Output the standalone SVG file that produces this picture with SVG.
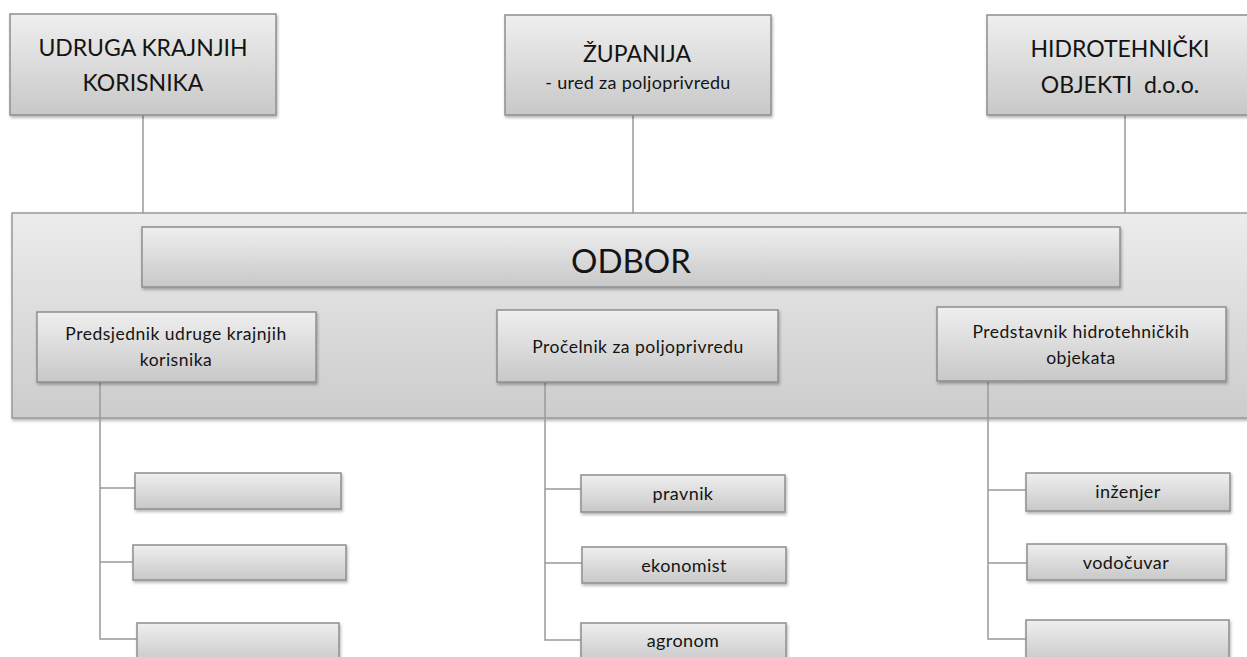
<svg xmlns="http://www.w3.org/2000/svg" width="1247" height="657" viewBox="0 0 1247 657">
<defs>
<linearGradient id="g" x1="0" y1="0" x2="0" y2="1">
<stop offset="0" stop-color="#efefef"/>
<stop offset="1" stop-color="#c8c8c8"/>
</linearGradient>
<linearGradient id="gc" x1="0" y1="0" x2="0" y2="1">
<stop offset="0" stop-color="#ececec"/>
<stop offset="1" stop-color="#cccccc"/>
</linearGradient>
<filter id="sh" x="-5%" y="-10%" width="110%" height="130%">
<feDropShadow dx="1" dy="2" stdDeviation="1.5" flood-color="#000" flood-opacity="0.3"/>
</filter>
</defs>
<style>
.box{fill:url(#g);stroke:#8e8e8e;stroke-width:1.5;filter:url(#sh)}
.cont{fill:url(#gc);stroke:#999;stroke-width:1.5;filter:url(#sh)}
.ln{stroke:#999;stroke-width:1.5;fill:none}
text{font-family:Lato,"Liberation Sans",sans-serif;fill:#141414;text-anchor:middle}
.big{font-size:23px}
.mid{font-size:17.5px;letter-spacing:0.5px}
.sub{font-size:18px;letter-spacing:0.3px}
.sm{font-size:18px;letter-spacing:0.4px}
</style>
<rect width="1247" height="657" fill="#fff"/>
<g id="connectors-top">
<line class="ln" x1="143" y1="115" x2="143" y2="213"/>
<line class="ln" x1="633" y1="115" x2="633" y2="213"/>
<line class="ln" x1="1125" y1="115" x2="1125" y2="213"/>
</g>
<g id="odbor-container">
<rect class="cont" x="12" y="213" width="1245" height="205"/>
</g>
<g id="connectors">
<path class="ln" d="M100 382 V639 H137 M100 488 H135 M100 562 H133"/>
<path class="ln" d="M545 382 V640 H581 M545 489 H581 M545 563 H582"/>
<path class="ln" d="M988 381 V639 H1026 M988 490 H1026 M988 563 H1027"/>
</g>
<g id="udruga">
<rect class="box" x="10" y="14" width="266" height="101"/>
<text class="big" x="143" y="56">UDRUGA KRAJNJIH</text>
<text class="big" x="143" y="91">KORISNIKA</text>
</g>
<g id="zupanija">
<rect class="box" x="505" y="15" width="266" height="100"/>
<text class="big" x="637" y="62">ŽUPANIJA</text>
<text class="sub" x="638" y="89">- ured za poljoprivredu</text>
</g>
<g id="hidrotehnicki">
<rect class="box" x="987" y="15" width="262" height="100"/>
<text class="big" x="1120" y="57">HIDROTEHNIČKI</text>
<text class="big" x="1120" y="93" xml:space="preserve">OBJEKTI  d.o.o.</text>
</g>
<g id="odbor">
<rect class="box" x="142" y="227" width="978" height="60"/>
<text x="631" y="273" style="font-size:33px">ODBOR</text>
</g>
<g id="predsjednik">
<rect class="box" x="37" y="312" width="279" height="70"/>
<text class="mid" x="176" y="340">Predsjednik udruge krajnjih</text>
<text class="mid" x="176" y="366">korisnika</text>
</g>
<g id="procelnik">
<rect class="box" x="497" y="310" width="281" height="72"/>
<text class="mid" x="638" y="353">Pročelnik za poljoprivredu</text>
</g>
<g id="predstavnik">
<rect class="box" x="937" y="307" width="289" height="74"/>
<text class="mid" x="1081" y="338">Predstavnik hidrotehničkih</text>
<text class="mid" x="1081" y="364">objekata</text>
</g>
<g id="l1"><rect class="box" x="135" y="473" width="206" height="36"/></g>
<g id="l2"><rect class="box" x="133" y="545" width="213" height="35"/></g>
<g id="l3"><rect class="box" x="137" y="623" width="202" height="40"/></g>
<g id="pravnik"><rect class="box" x="581" y="475" width="204" height="37"/><text class="sm" x="683" y="500">pravnik</text></g>
<g id="ekonomist"><rect class="box" x="582" y="547" width="204" height="36"/><text class="sm" x="684" y="572">ekonomist</text></g>
<g id="agronom"><rect class="box" x="581" y="623" width="205" height="40"/><text class="sm" x="683" y="647">agronom</text></g>
<g id="inzenjer"><rect class="box" x="1026" y="473" width="204" height="38"/><text class="sm" x="1128" y="498">inženjer</text></g>
<g id="vodocuvar"><rect class="box" x="1027" y="544" width="199" height="36"/><text class="sm" x="1126" y="569">vodočuvar</text></g>
<g id="r3"><rect class="box" x="1026" y="620" width="203" height="43"/></g>
</svg>
